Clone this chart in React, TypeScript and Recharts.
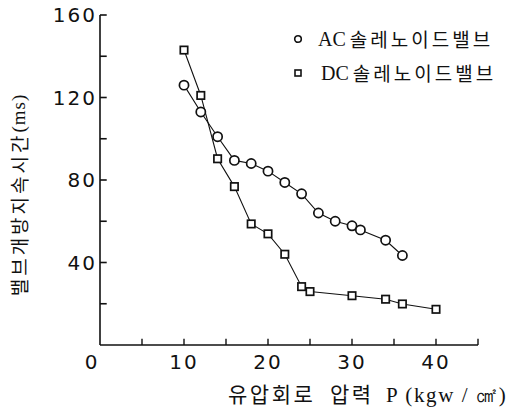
import { LineChart, Line, XAxis, YAxis, Legend, Label, ReferenceLine } from 'recharts'

// 밸브 개방 지속시간 vs 유압회로 압력
const acPressure = [10, 12, 14, 16, 18, 20, 22, 24, 26, 28, 30, 31, 34, 36]
const acTime = [126, 113, 101, 89.5, 88, 84.3, 78.8, 73.3, 64, 60, 57.8, 55.8, 50.8, 43.4]

const dcPressure = [10, 12, 14, 16, 18, 20, 22, 24, 25, 30, 34, 36, 40]
const dcTime = [143, 121, 90.3, 76.8, 58.7, 53.9, 44, 28.3, 25.9, 23.9, 22.2, 19.9, 17.3]

const xTicks = [0, 5, 10, 15, 20, 25, 30, 35, 40, 45]
const yTicks = [0, 20, 40, 60, 80, 100, 120, 140, 160]

const acData = acPressure.map((x, i) => ({ x, y: acTime[i] }))
const dcData = dcPressure.map((x, i) => ({ x, y: dcTime[i] }))

const tickFont = { fontFamily: 'DejaVu Sans', fontSize: 20, fill: '#111', letterSpacing: 2 }
const krFont = '"Noto Sans CJK KR", "Noto Sans", sans-serif'
const serifFont = '"Liberation Serif", "DejaVu Serif", serif'

const CircleDot = (props: any) => {
    const { cx, cy } = props
    if (cx == null || cy == null) return null
    return <circle cx={cx} cy={cy} r={4.6} fill="#fff" stroke="#111" strokeWidth={1.7} />
}

const SquareDot = (props: any) => {
    const { cx, cy } = props
    if (cx == null || cy == null) return null
    return <rect x={cx - 3.7} y={cy - 3.7} width={7.4} height={7.4} fill="#fff" stroke="#111" strokeWidth={1.7} />
}

const XTick = (props: any) => {
    const { x, y, payload } = props
    const v = payload.value
    if (v % 10 !== 0) return null
    return (
        <text x={x + (v === 0 ? -8 : 0)} y={y + 2} dominantBaseline="central" textAnchor="middle" {...tickFont}>
            {v}
        </text>
    )
}

const LegendBox = () => (
    <div style={{ color: '#111', lineHeight: '34px' }}>
        {[
            { name: 'AC', shape: 'circle' },
            { name: 'DC', shape: 'square' }
        ].map(item => (
            <div key={item.name} style={{ display: 'flex', alignItems: 'center', whiteSpace: 'nowrap' }}>
                <svg width={16} height={16} style={{ marginRight: item.name === 'AC' ? 12 : 15 }}>
                    {item.shape === 'circle'
                        ? <circle cx={8} cy={8} r={3.3} fill="#fff" stroke="#111" strokeWidth={1.6} />
                        : <rect x={5} y={5} width={6} height={6} fill="#fff" stroke="#111" strokeWidth={1.6} />}
                </svg>
                <span style={{ fontFamily: serifFont, fontSize: 20 }}>{item.name}</span>
                <span style={{ fontFamily: krFont, fontSize: 19, letterSpacing: 3, marginLeft: 4 }}>솔레노이드밸브</span>
            </div>
        ))}
    </div>
)

export default function App() {
    return (
        <div style={{ position: 'absolute', left: 0, top: 0, background: '#fff' }}>
            <LineChart width={509} height={415} margin={{ top: 15, right: 31, bottom: 0, left: 0 }}>
                <XAxis
                    type="number"
                    dataKey="x"
                    domain={[0, 45]}
                    allowDataOverflow
                    ticks={xTicks}
                    height={70}
                    tickLine={false}
                    tickSize={0}
                    tickMargin={15}
                    tick={<XTick />}
                    stroke="#111"
                    strokeWidth={1.6}
                >
                    <Label
                        content={() => (
                            <text y={402} fill="#111">
                                <tspan x={228} fontFamily={krFont} fontSize={21} letterSpacing={2.5}>유압회로</tspan>
                                <tspan x={330} fontFamily={krFont} fontSize={21} letterSpacing={2.5}>압력</tspan>
                                <tspan x={386} fontFamily={serifFont} fontSize={21} letterSpacing={1.6}>P (kgw / ㎠)</tspan>
                            </text>
                        )}
                    />
                </XAxis>
                <YAxis
                    type="number"
                    dataKey="y"
                    domain={[0, 160]}
                    allowDataOverflow
                    ticks={yTicks}
                    width={100}
                    tickLine={false}
                    tickSize={0}
                    tickMargin={3}
                    tick={tickFont}
                    tickFormatter={(v: number) => (v % 40 === 0 && v !== 0 ? String(v) : '')}
                    stroke="#111"
                    strokeWidth={1.6}
                >
                    <Label
                        content={() => (
                            <text
                                x={18}
                                y={195}
                                transform="rotate(-90 18 195)"
                                textAnchor="middle"
                                dominantBaseline="central"
                                fill="#111"
                            >
                                <tspan fontFamily={krFont} fontSize={19} letterSpacing={3}>밸브개방지속시간</tspan>
                                <tspan fontFamily={serifFont} fontSize={19} letterSpacing={1}>(ms)</tspan>
                            </text>
                        )}
                    />
                </YAxis>
                {/* inward tick marks */}
                {yTicks.filter(t => t > 0).map(t => (
                    <ReferenceLine key={'y' + t} segment={[{ x: 0, y: t }, { x: 0.8, y: t }]} stroke="#111" strokeWidth={1.6} />
                ))}
                {xTicks.filter(t => t > 0).map(t => (
                    <ReferenceLine key={'x' + t} segment={[{ x: t, y: 0 }, { x: t, y: 3 }]} stroke="#111" strokeWidth={1.4} />
                ))}
                <Legend
                    content={<LegendBox />}
                    layout="horizontal"
                    verticalAlign="middle"
                    align="center"
                    wrapperStyle={{ position: 'absolute', top: 22, left: 290, width: 219 }}
                />
                <Line
                    data={dcData}
                    dataKey="y"
                    name="DC 솔레노이드밸브"
                    stroke="#111"
                    strokeWidth={1.1}
                    dot={<SquareDot />}
                    activeDot={false}
                    isAnimationActive={false}
                />
                <Line
                    data={acData}
                    dataKey="y"
                    name="AC 솔레노이드밸브"
                    stroke="#111"
                    strokeWidth={1.1}
                    dot={<CircleDot />}
                    activeDot={false}
                    isAnimationActive={false}
                />
            </LineChart>
        </div>
    )
}
